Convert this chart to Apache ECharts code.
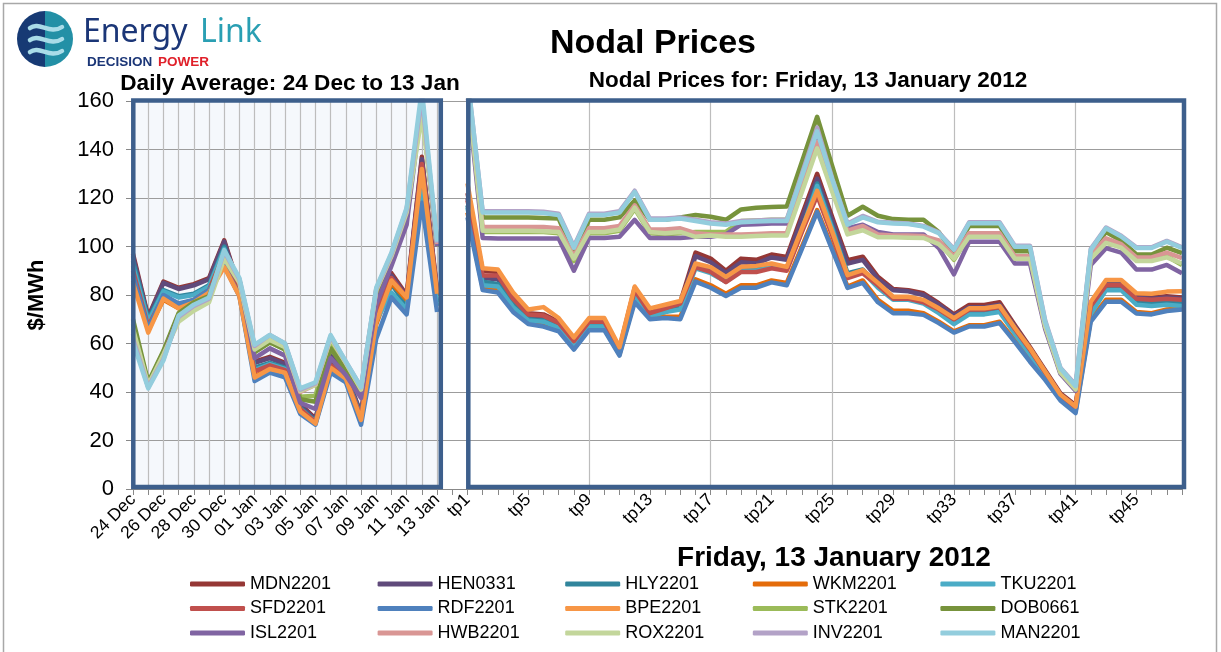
<!DOCTYPE html>
<html>
<head>
<meta charset="utf-8">
<title>Nodal Prices</title>
<script src="https://cdn.jsdelivr.net/npm/echarts@6/dist/echarts.min.js"></script>
<style>
  html, body { margin: 0; padding: 0; background: #fff; }
  #chart { width: 1221px; height: 652px; }
</style>
</head>
<body>
<div id="chart"></div>
<script>
// categories
var dayLabels = ['24 Dec', '25 Dec', '26 Dec', '27 Dec', '28 Dec', '29 Dec', '30 Dec', '31 Dec',
  '01 Jan', '02 Jan', '03 Jan', '04 Jan', '05 Jan', '06 Jan', '07 Jan', '08 Jan', '09 Jan',
  '10 Jan', '11 Jan', '12 Jan', '13 Jan'];
var tpLabels = ['tp1', 'tp2', 'tp3', 'tp4', 'tp5', 'tp6', 'tp7', 'tp8', 'tp9', 'tp10', 'tp11', 'tp12',
  'tp13', 'tp14', 'tp15', 'tp16', 'tp17', 'tp18', 'tp19', 'tp20', 'tp21', 'tp22', 'tp23', 'tp24',
  'tp25', 'tp26', 'tp27', 'tp28', 'tp29', 'tp30', 'tp31', 'tp32', 'tp33', 'tp34', 'tp35', 'tp36',
  'tp37', 'tp38', 'tp39', 'tp40', 'tp41', 'tp42', 'tp43', 'tp44', 'tp45', 'tp46', 'tp47', 'tp48'];
var yTicks = [0, 20, 40, 60, 80, 100, 120, 140, 160];

// daily averages, 24 Dec - 13 Jan ($/MWh)
var dayMDN = [97, 71, 85.5, 83, 84.5, 87, 102.5, 83, 52.5, 54.5, 52, 35, 29, 53, 47.5, 31, 75, 89, 80, 137, 82];
var dayHEN = [96, 70.5, 85, 82.5, 84, 86.5, 102, 82.5, 52, 54, 51.5, 34.5, 28.5, 55, 47.5, 31, 74, 88, 79.5, 136, 81.5];
var dayHLY = [94, 70, 82, 79.5, 80.5, 84, 100, 82, 50, 52, 50, 33.5, 28, 51, 46.5, 30, 71, 84.5, 75.5, 128, 77];
var dayWKM = [86, 65.5, 78, 74.5, 77, 81, 93, 80, 46.5, 49.5, 48, 32, 27, 49.5, 45.5, 28.5, 68, 85, 78, 131, 80];
var dayTKU = [92, 69, 81.5, 79, 80, 83.5, 99, 81.5, 49, 51.5, 49.5, 33, 27.5, 50.5, 46, 29.5, 69.5, 81, 74, 125, 75.5];
var daySFD = [90, 67, 79.5, 76, 78, 82, 97, 80.5, 48.5, 51, 49, 33, 27.5, 51, 46, 29.5, 72, 87, 79, 134, 81];
var dayRDF = [88, 66, 80, 76.5, 78, 82, 92, 79.5, 44.5, 48, 46, 31, 26.5, 48, 44, 26.5, 62, 79, 72, 118, 73];
var dayBPE = [85, 64.5, 78.5, 74.5, 77, 81, 91.5, 79.5, 46, 49.5, 48, 32, 27, 50, 45.5, 28.5, 69, 86, 79, 132, 80.5];
var daySTK = [68, 43.5, 56.5, 72, 76.5, 79, 96.5, 86, 56.5, 60.5, 57.5, 38, 38.5, 59.5, 50, 39.5, 80.5, 95.5, 113.5, 158, 100];
var dayDOB = [70, 44, 57, 72.5, 77, 79.5, 98, 86, 56.5, 60.5, 57.5, 37, 36, 58, 49, 39, 80, 95, 113, 158, 100];
var dayISL = [64, 42.5, 55, 71, 75.5, 78.5, 97, 86, 54, 58, 55, 35.5, 33, 54, 47, 37.5, 76, 92, 109, 159, 100];
var dayHWB = [63, 42, 54.5, 70.5, 75, 78, 97, 86, 58.5, 63, 59.5, 40, 43, 62.5, 52, 41.5, 82, 96.5, 115, 160, 101];
var dayROX = [66, 43, 55.5, 69, 73.5, 77, 95, 85, 57.5, 61.5, 58.5, 40.5, 43, 62, 52, 41, 82, 96, 114, 154, 103];
var dayINV = [62, 42, 53.5, 71, 75.5, 78.5, 98, 86.5, 59, 63.5, 60, 41, 43.5, 63, 52.5, 42, 82.5, 97, 115.5, 162, 101.5];
var dayMAN = [60.5, 41.5, 53, 71.5, 76, 79, 98.5, 87, 59.5, 63.5, 60, 41.5, 44, 63.5, 52.5, 42, 83, 97.5, 116, 165, 102];

// trading periods, Friday 13 January 2012 ($/MWh)
var tpMDN = [122, 90, 89.5, 79, 72.5, 72, 69, 61.5, 69.5, 69.5, 58, 83, 73, 75, 77, 97.5, 95, 90, 95, 94.5, 96.7, 95.7, 113, 130,
  112, 94.4, 95.8, 87.5, 82.5, 82, 80.7, 76.6, 72, 75.9, 75.9, 77, 67.6, 58.5, 49, 39.5, 34.5, 76.5, 85, 85, 79.5, 79, 79.5, 79];
var tpHEN = [120, 87, 86.5, 77.5, 71.5, 71, 68, 60.5, 68.5, 68.5, 57, 81.5, 72, 74, 76, 96, 93.5, 89, 93.5, 93, 95.5, 94.5, 111.5, 128,
  110.5, 93, 94.5, 86.5, 82, 81.5, 80, 76, 71.5, 75, 75, 76, 67, 58, 48.5, 39, 34, 76, 84.5, 84.5, 79, 78.5, 79, 78.5];
var tpHLY = [117, 85.5, 84.5, 76, 70, 69.5, 67, 59.5, 67.5, 67.5, 56.5, 80, 71.5, 73, 75, 92, 90, 86.5, 90.5, 90.5, 92, 91, 107, 126,
  108, 89, 90.5, 84, 79, 79, 77.5, 73.5, 69.5, 73, 73, 74.5, 65, 56.5, 47, 38, 33, 73, 83.5, 83.5, 77.2, 77, 77.2, 76.5];
var tpWKM = [114, 83, 82.5, 74, 69, 68, 66, 58.5, 66, 66, 55.5, 78, 70.5, 71, 71, 86.5, 84, 80.5, 84, 84, 86, 85, 100, 115,
  99.5, 83.5, 86, 78, 73.5, 73.5, 72.5, 69, 65, 67.5, 67.5, 69, 61.5, 53, 45.5, 37, 32, 70, 78, 78, 73, 72.5, 74, 74.5];
var tpTKU = [116, 84, 83.5, 75, 69.5, 69, 66.5, 59, 67, 67, 56, 79, 71, 73, 74, 91, 89, 85.5, 90, 90, 91.5, 90.5, 106.5, 125,
  107, 88, 89.5, 83, 78, 78, 76.5, 72.5, 68, 72, 72, 73, 64, 55.5, 46.5, 37.5, 32.5, 72, 82, 82, 76, 75.5, 76, 75.5];
var tpSFD = [119, 88, 88, 78.5, 72, 71.5, 68.5, 61, 69, 69, 57.5, 82, 72.5, 74.5, 76.5, 91.5, 89.5, 85.3, 89.5, 89.5, 91, 90, 106, 121,
  104.5, 87, 89, 84, 78.5, 78.5, 77, 74, 70, 74, 74, 75, 66, 57.5, 48, 38.5, 33.5, 75.5, 84, 84, 78.5, 78, 78.5, 78];
var tpRDF = [112, 82, 81, 73, 68, 67, 65, 57.5, 65.5, 65.5, 55, 77, 70, 70.5, 70, 85.5, 83, 79.6, 83, 83, 85.2, 84, 99, 114.3,
  98.5, 82.9, 85, 77, 72.5, 72.5, 71.8, 68.4, 64.5, 67, 67, 68.4, 60.7, 52.5, 45, 36.5, 31.3, 69, 77.2, 77.2, 72.4, 72, 73.4, 74];
var tpBPE = [126, 91, 90.5, 81, 74, 75, 70.5, 62.5, 70.5, 70.5, 58.5, 83.5, 74.5, 76, 77.5, 93, 91.5, 87.5, 91.6, 92, 93, 91.6, 107.5, 123,
  106, 88.2, 90.3, 85, 79.3, 79.3, 78, 74.5, 70.5, 74.5, 74.5, 75.5, 66.5, 58, 48.5, 39, 34, 77.2, 86.2, 86.2, 80.7, 80.5, 81.4, 81.5];
var tpSTK = [166, 106, 106, 106, 106, 106, 105.5, 94, 105.5, 105.5, 106.5, 115.5, 105.5, 105, 105.5, 106, 106, 106, 110.5, 110.7, 111, 111, 127, 144,
  125, 106, 107.5, 104.5, 104, 104, 104, 102, 94.5, 104.5, 104.5, 104.5, 95, 95, 67, 48, 41, 95.5, 102, 100, 94.5, 94.5, 96, 92.4];
var tpDOB = [168, 112, 112, 112, 112, 111.8, 111.5, 97, 111, 111, 112, 119, 111, 111, 112, 113, 112.3, 111, 115.3, 116, 116.3, 116.5, 135, 153.5,
  133, 112.7, 116.4, 112.7, 111.3, 111, 111, 106, 97, 108.5, 108.5, 108.5, 98, 98, 67, 48.5, 41.5, 97.5, 106, 102.5, 96.7, 96.7, 99.5, 97.3];
var tpISL = [163, 103.5, 103.3, 103.3, 103.3, 103.3, 103.3, 90, 103.5, 103.5, 104, 111, 103.5, 103.5, 103.5, 104, 104, 105, 109, 109.2, 109.5, 109.5, 127, 146,
  126, 107.5, 109, 106, 105, 105, 105, 99.4, 88.5, 102, 102, 102, 93, 93, 66, 47.5, 40.5, 92.4, 99.3, 97.5, 90.5, 90.5, 92.4, 89];
var tpHWB = [167, 108, 108, 108, 108, 108, 107.5, 96, 107.5, 107.5, 108.5, 117, 107, 107, 107.5, 105.5, 105, 105, 105, 105.2, 105.5, 105.5, 124, 143,
  123, 106.5, 108.5, 105, 104.5, 104.5, 104.3, 102.5, 96, 105.5, 105.5, 105.5, 96, 96, 67.5, 48.5, 41.5, 96.5, 103.4, 101, 95.5, 95.5, 97.5, 95.2];
var tpROX = [165, 106.5, 106.5, 106.5, 106.5, 106.3, 106, 95, 106, 106, 107, 116, 106, 105.5, 106, 104, 104.5, 104, 104, 104.3, 104.5, 104.5, 122.5, 140.5,
  122.5, 105, 106.7, 103.8, 103.8, 103.6, 103.5, 101, 95, 104, 104, 104, 95, 95, 67, 48, 41, 95, 101.5, 99.5, 94, 94, 95.5, 93];
var tpINV = [170, 114.5, 114.5, 114.5, 114.5, 114.3, 113.5, 100, 113.5, 113.5, 114.5, 123, 111.5, 111.5, 112, 111, 110, 109.5, 110.5, 110.7, 111, 111, 130, 149,
  128, 109.5, 112.6, 110.2, 109.8, 109.5, 108.5, 105.8, 99, 110, 110, 110, 100.3, 100.3, 69.5, 50, 43, 99, 107.8, 104.4, 99.7, 99.7, 102.3, 99.7];
var tpMAN = [170, 114, 114, 114, 114, 113.8, 113, 99.5, 113, 113, 114, 122.5, 111, 111, 111.5, 110.5, 109.5, 109, 110, 110.3, 110.5, 110.5, 129, 147.5,
  127.5, 109, 112, 110, 109.5, 109.3, 108.2, 105.5, 98.7, 109.6, 109.6, 109.6, 99.9, 99.9, 69, 49.8, 42.5, 98.6, 107.5, 104.1, 99.4, 99.4, 102, 99.4];

var nodes = [
  ['MDN2201', dayMDN, tpMDN, '#953735'],
  ['HEN0331', dayHEN, tpHEN, '#604a7b'],
  ['HLY2201', dayHLY, tpHLY, '#31859c'],
  ['WKM2201', dayWKM, tpWKM, '#e46c0a'],
  ['TKU2201', dayTKU, tpTKU, '#4bacc6'],
  ['SFD2201', daySFD, tpSFD, '#c0504d'],
  ['RDF2201', dayRDF, tpRDF, '#4f81bd'],
  ['BPE2201', dayBPE, tpBPE, '#f79646'],
  ['STK2201', daySTK, tpSTK, '#9bbb59'],
  ['DOB0661', dayDOB, tpDOB, '#77933c'],
  ['ISL2201', dayISL, tpISL, '#8064a2'],
  ['HWB2201', dayHWB, tpHWB, '#d99694'],
  ['ROX2201', dayROX, tpROX, '#c3d69b'],
  ['INV2201', dayINV, tpINV, '#b3a2c7'],
  ['MAN2201', dayMAN, tpMAN, '#93cddd']
];

(function() {
  var myChart = echarts.init(document.getElementById('chart'));
  var font = 'Arial, "Liberation Sans", sans-serif';
  var frameColor = '#3d5f8c';

  // one blank category between the two panels
  var categories = dayLabels.concat([''], tpLabels);
  var nDays = dayLabels.length;

  function showLabel(i) {
    if (i < nDays) return i % 2 === 0;
    return i > nDays && (i - nDays - 1) % 4 === 0;
  }
  function showGrid(i) {
    if (i < nDays) return true;
    return i > nDays && (i - nDays - 1) % 8 === 0;
  }

  var series = nodes.map(function(n) {
    return {
      name: n[0],
      type: 'line',
      data: n[1].concat([null], n[2]),
      color: n[3],
      symbol: 'none',
      connectNulls: false,
      lineStyle: { width: 4.5, join: 'round' },
      emphasis: { disabled: true }
    };
  });

  // legend: 5 columns x 3 rows
  var legends = [0, 1, 2, 3, 4].map(function(j) {
    return {
      orient: 'vertical',
      left: 185 + 187.6 * j,
      top: 570,
      icon: 'roundRect',
      itemWidth: 55,
      itemHeight: 5,
      itemGap: 6.5,
      selectedMode: false,
      textStyle: { fontSize: 18, lineHeight: 18, color: '#000', fontFamily: font },
      data: [nodes[j][0], nodes[j + 5][0], nodes[j + 10][0]]
    };
  });

  var option = {
    animation: false,
    backgroundColor: '#fff',
    grid: { left: 133, right: 39, top: 101, bottom: 163 },
    legend: legends,
    xAxis: {
      type: 'category',
      data: categories,
      boundaryGap: false,
      axisLine: { lineStyle: { color: '#888' } },
      axisTick: { interval: 0, length: 6, lineStyle: { color: '#888' } },
      axisLabel: {
        interval: function(i) { return showLabel(i); },
        rotate: 45,
        margin: 8,
        fontSize: 17.5,
        color: '#000',
        fontFamily: font
      },
      splitLine: {
        show: true,
        interval: function(i) { return showGrid(i); },
        lineStyle: { color: '#bdbdbd', width: 1.2 }
      }
    },
    yAxis: {
      type: 'value',
      min: yTicks[0],
      max: yTicks[yTicks.length - 1],
      interval: 20,
      name: '$/MWh',
      nameLocation: 'middle',
      nameRotate: 90,
      nameGap: 85,
      nameTextStyle: { fontSize: 22, fontWeight: 'bold', color: '#000', fontFamily: font },
      axisLine: { show: true, lineStyle: { color: '#888' } },
      axisTick: { show: true, length: 7, lineStyle: { color: '#888' } },
      axisLabel: { fontSize: 22, color: '#000', margin: 19, fontFamily: font },
      splitLine: { lineStyle: { color: '#9c9c9c', width: 1.2 } }
    },
    graphic: [
      // outer border
      { type: 'rect', z: 100, silent: true, shape: { x: 3.5, y: 3.5, width: 1213, height: 700 },
        style: { fill: 'none', stroke: '#a8a8a8', lineWidth: 1.5 } },
      // left panel background
      { type: 'rect', z: -10, silent: true, shape: { x: 133, y: 100, width: 308, height: 388 },
        style: { fill: '#f5f8fc' } },
      // panel frames
      { type: 'rect', z: 100, silent: true, shape: { x: 133.3, y: 100.5, width: 307.5, height: 386.5 },
        style: { fill: 'none', stroke: frameColor, lineWidth: 4.5 } },
      { type: 'rect', z: 100, silent: true, shape: { x: 468.3, y: 100.5, width: 715.7, height: 386.5 },
        style: { fill: 'none', stroke: frameColor, lineWidth: 4.5 } },
      // titles
      { type: 'text', z: 100, x: 653, y: 44,
        style: { text: 'Nodal Prices', font: 'bold 34px ' + font, fill: '#000', align: 'center', verticalAlign: 'middle', textAlign: 'center', textVerticalAlign: 'middle' } },
      { type: 'text', z: 100, x: 290, y: 84,
        style: { text: 'Daily Average: 24 Dec to 13 Jan', font: 'bold 22.6px ' + font, fill: '#000', align: 'center', verticalAlign: 'middle', textAlign: 'center', textVerticalAlign: 'middle' } },
      { type: 'text', z: 100, x: 808, y: 81,
        style: { text: 'Nodal Prices for: Friday, 13 January 2012', font: 'bold 22.5px ' + font, fill: '#000', align: 'center', verticalAlign: 'middle', textAlign: 'center', textVerticalAlign: 'middle' } },
      { type: 'text', z: 100, x: 834, y: 558,
        style: { text: 'Friday, 13 January 2012', font: 'bold 28px ' + font, fill: '#000', align: 'center', verticalAlign: 'middle', textAlign: 'center', textVerticalAlign: 'middle' } },
      // logo
      { type: 'sector', z: 100, shape: { cx: 45, cy: 39, r: 28, startAngle: Math.PI / 2, endAngle: Math.PI * 1.5 },
        style: { fill: '#173a74' } },
      { type: 'sector', z: 100, shape: { cx: 45, cy: 39, r: 28, startAngle: -Math.PI / 2, endAngle: Math.PI / 2 },
        style: { fill: '#2390a6' } },
      { type: 'bezierCurve', z: 101, shape: { x1: 30, y1: 28, cpx1: 39, cpy1: 21, cpx2: 50, cpy2: 35, x2: 62, y2: 27 },
        style: { stroke: '#a9dce8', lineWidth: 4.5, fill: 'none', lineCap: 'round' } },
      { type: 'bezierCurve', z: 101, shape: { x1: 30, y1: 40, cpx1: 39, cpy1: 33, cpx2: 50, cpy2: 47, x2: 62, y2: 39 },
        style: { stroke: '#a9dce8', lineWidth: 4.5, fill: 'none', lineCap: 'round' } },
      { type: 'bezierCurve', z: 101, shape: { x1: 30, y1: 52, cpx1: 39, cpy1: 45, cpx2: 50, cpy2: 59, x2: 62, y2: 51 },
        style: { stroke: '#a9dce8', lineWidth: 4.5, fill: 'none', lineCap: 'round' } },
      { type: 'text', z: 100, x: 83, y: 33,
        style: { text: 'Energy', font: '32px "Noto Sans", sans-serif', fill: '#1b3677', verticalAlign: 'middle', textVerticalAlign: 'middle' } },
      { type: 'text', z: 100, x: 200, y: 33,
        style: { text: 'Link', font: '32px "Noto Sans", sans-serif', fill: '#2a9fb3', verticalAlign: 'middle', textVerticalAlign: 'middle' } },
      { type: 'text', z: 100, x: 87, y: 62,
        style: { text: 'DECISION', font: 'bold 13.5px ' + font, fill: '#1b3677', verticalAlign: 'middle', textVerticalAlign: 'middle' } },
      { type: 'text', z: 100, x: 158, y: 62,
        style: { text: 'POWER', font: 'bold 13.5px ' + font, fill: '#e0202a', verticalAlign: 'middle', textVerticalAlign: 'middle' } }
    ],
    series: series
  };

  myChart.setOption(option);
})();
</script>
</body>
</html>
